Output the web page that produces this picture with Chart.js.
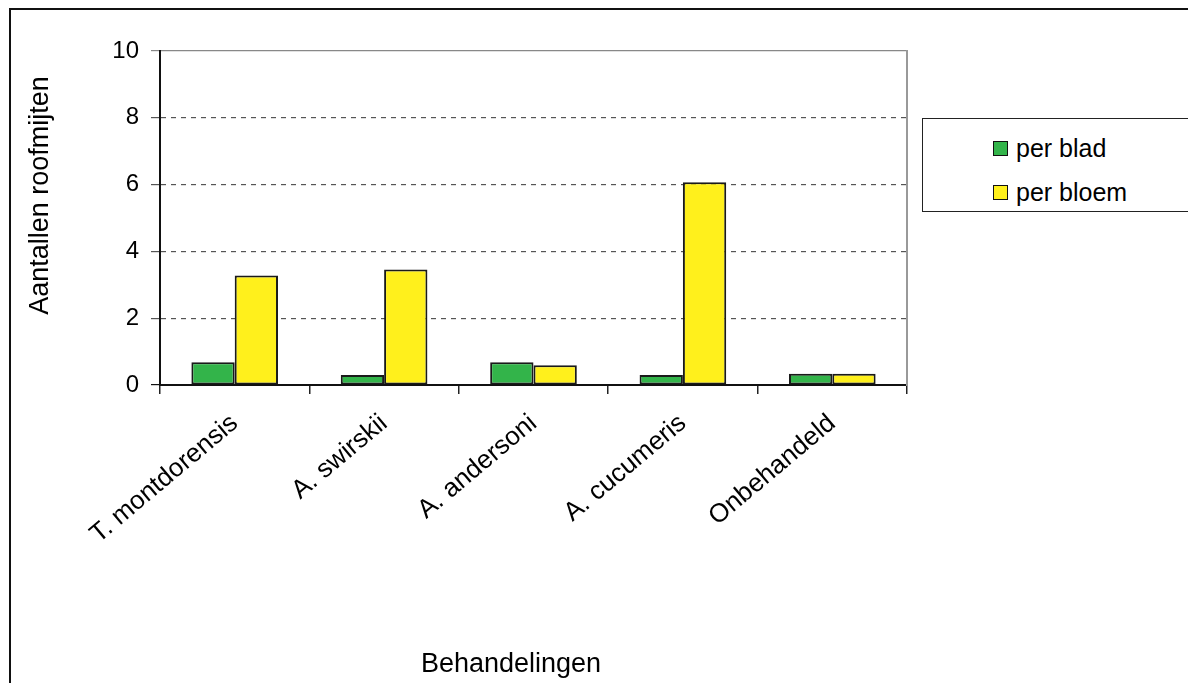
<!DOCTYPE html>
<html>
<head>
<meta charset="utf-8">
<script src="https://cdn.jsdelivr.net/npm/chart.js@4/dist/chart.umd.min.js"></script>
<style>
  html, body { margin: 0; padding: 0; background: #fff; }
  body { width: 1188px; height: 683px; position: relative; overflow: hidden; font-family: "Liberation Sans", Arial, sans-serif; }
  #frame { position: absolute; left: 9px; top: 8px; width: 1300px; height: 800px; border-top: 2px solid #111; border-left: 2px solid #111; }
  #chart { position: absolute; left: 0; top: 0; }
  #legend { position: absolute; left: 922px; top: 118px; width: 280px; height: 94px; border: 1px solid #222; box-sizing: border-box; background: #fff; }
  .item { position: absolute; left: 70px; font-size: 25px; color: #000; line-height: 30px; }
  .item span.sw { position: absolute; left: 0; top: 8px; width: 13px; height: 13px; border: 1.5px solid #111; }
  .item span.tx { position: absolute; left: 23px; white-space: nowrap; }
</style>
</head>
<body>
<div id="frame"></div>
<canvas id="chart" width="1188" height="683"></canvas>
<div id="legend"></div>
<script>
// ---------- data ----------
const categories = ['T. montdorensis', 'A. swirskii', 'A. andersoni', 'A. cucumeris', 'Onbehandeld'];
const perBlad  = [0.68, 0.3, 0.68, 0.3, 0.34];
const perBloem = [3.28, 3.46, 0.59, 6.07, 0.34];
const seriesNames = ['per blad', 'per bloem'];
const yTicks = [0, 2, 4, 6, 8, 10];
const axisTitles = { x: 'Behandelingen', y: 'Aantallen roofmijten' };

const colors = ['#33b44a', '#fff01c'];
const font = '"Liberation Sans", Arial, sans-serif';
// titles sit a little off the plot centre in the original, pad with spaces
const pad = '\u00a0'.repeat(6);

const ctx = document.getElementById('chart').getContext('2d');

new Chart(ctx, {
  type: 'bar',
  data: {
    labels: categories,
    datasets: [perBlad, perBloem].map((vals, i) => ({
      label: seriesNames[i],
      data: vals,
      backgroundColor: colors[i],
      borderColor: '#1a1a1a',
      borderWidth: 2,
      borderSkipped: false,
      barPercentage: 1,
      categoryPercentage: 0.58
    }))
  },
  options: {
    responsive: false,
    animation: false,
    devicePixelRatio: 1,
    layout: { padding: { top: 51, right: 281, left: 0, bottom: 0 } },
    plugins: { legend: { display: false }, tooltip: { enabled: false } },
    scales: {
      x: {
        offset: true,
        grid: { offset: true, drawOnChartArea: false, drawTicks: true, tickLength: 9, color: '#222', lineWidth: 1.5 },
        border: { color: '#111', width: 2 },
        ticks: {
          autoSkip: false, minRotation: 40, maxRotation: 40, padding: 14,
          color: '#000', font: { family: font, size: 26 }
        },
        title: { display: true, text: axisTitles.x + pad, color: '#000', font: { family: font, size: 27 }, padding: { top: 0, bottom: 2 } },
        afterFit: (s) => { s.height = 683 - 385; }
      },
      y: {
        min: 0, max: 10,
        afterBuildTicks: (s) => { s.ticks = yTicks.map(v => ({ value: v })); },
        grid: {
          drawTicks: true, tickLength: 9,
          color: (c) => c.tick && c.tick.value === 10 ? '#888' : (c.tick && c.tick.value === 0 ? '#111' : '#555'),
          lineWidth: 1.2
        },
        border: {
          color: '#111', width: 2,
          dash: (c) => (c.tick && c.tick.value > 0 && c.tick.value < 10) ? [5, 5] : []
        },
        ticks: { padding: 12, color: '#000', font: { family: font, size: 24 } },
        title: { display: true, text: pad + axisTitles.y, color: '#000', font: { family: font, size: 27 }, padding: { top: 24, bottom: 0 } },
        afterFit: (s) => { s.width = 160; }
      },
      yRight: {
        position: 'right', min: 0, max: 10,
        grid: { drawOnChartArea: false, drawTicks: false },
        border: { color: '#999', width: 2 },
        ticks: { display: false },
        afterFit: (s) => { s.width = 0; }
      }
    }
  }
});

// ---------- legend ----------
const legend = document.getElementById('legend');
seriesNames.forEach((name, i) => {
  const it = document.createElement('div');
  it.className = 'item';
  it.style.top = (14 + i * 44) + 'px';
  it.innerHTML = `<span class="sw" style="background:${colors[i]}"></span><span class="tx">${name}</span>`;
  legend.appendChild(it);
});
</script>
</body>
</html>
